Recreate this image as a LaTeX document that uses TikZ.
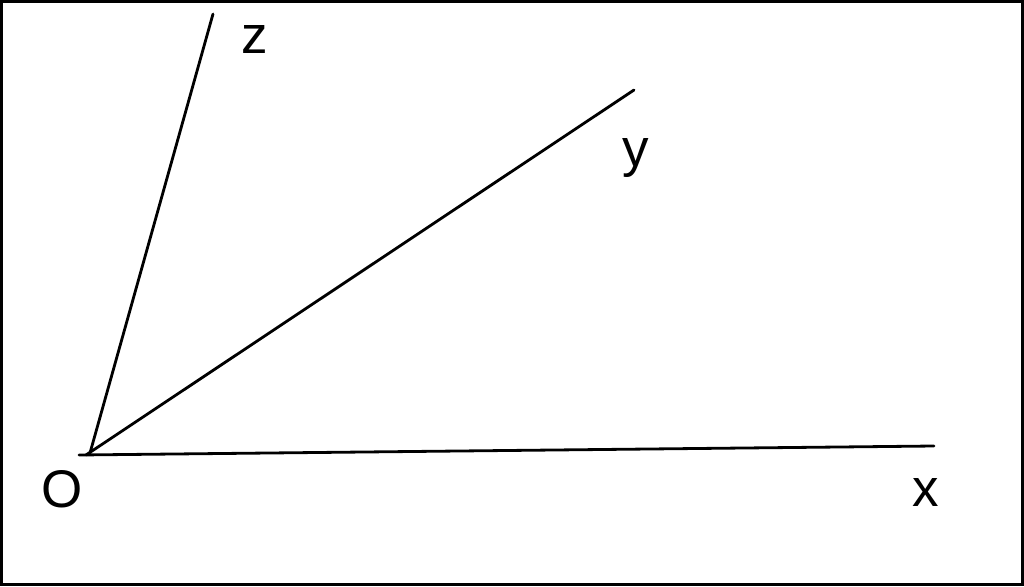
\documentclass[tikz,border=0pt]{standalone}
\usepackage{fontspec}
\setmainfont{Liberation Sans}
\begin{document}
\begin{tikzpicture}[x=1pt,y=-1pt,
  axis/.style={line width=2.8pt,line cap=round},
  lab/.style={font=\fontsize{53}{60}\selectfont,inner sep=0pt,anchor=base}]
\useasboundingbox (0,0) rectangle (1024,586);
\draw[line width=2.6pt] (1.3,1.3) rectangle (1022.7,584.7);
\coordinate (o) at (86,455);
\coordinate (oz) at (90,453);
\coordinate (ox) at (79,455);
\coordinate (zend) at (213,14);
\coordinate (yend) at (634,90);
\coordinate (xend) at (934,446);
\draw[axis] (oz) -- (zend);
\draw[axis] (o) -- (yend);
\draw[axis] (ox) -- (xend);
\node[lab] (lz) at (255,54) {z};
\node[lab] (ly) at (636,166) {y};
\node[lab] (lx) at (926,506) {x};
\node[lab] (lo) at (62,507) {O};
\end{tikzpicture}
\end{document}
